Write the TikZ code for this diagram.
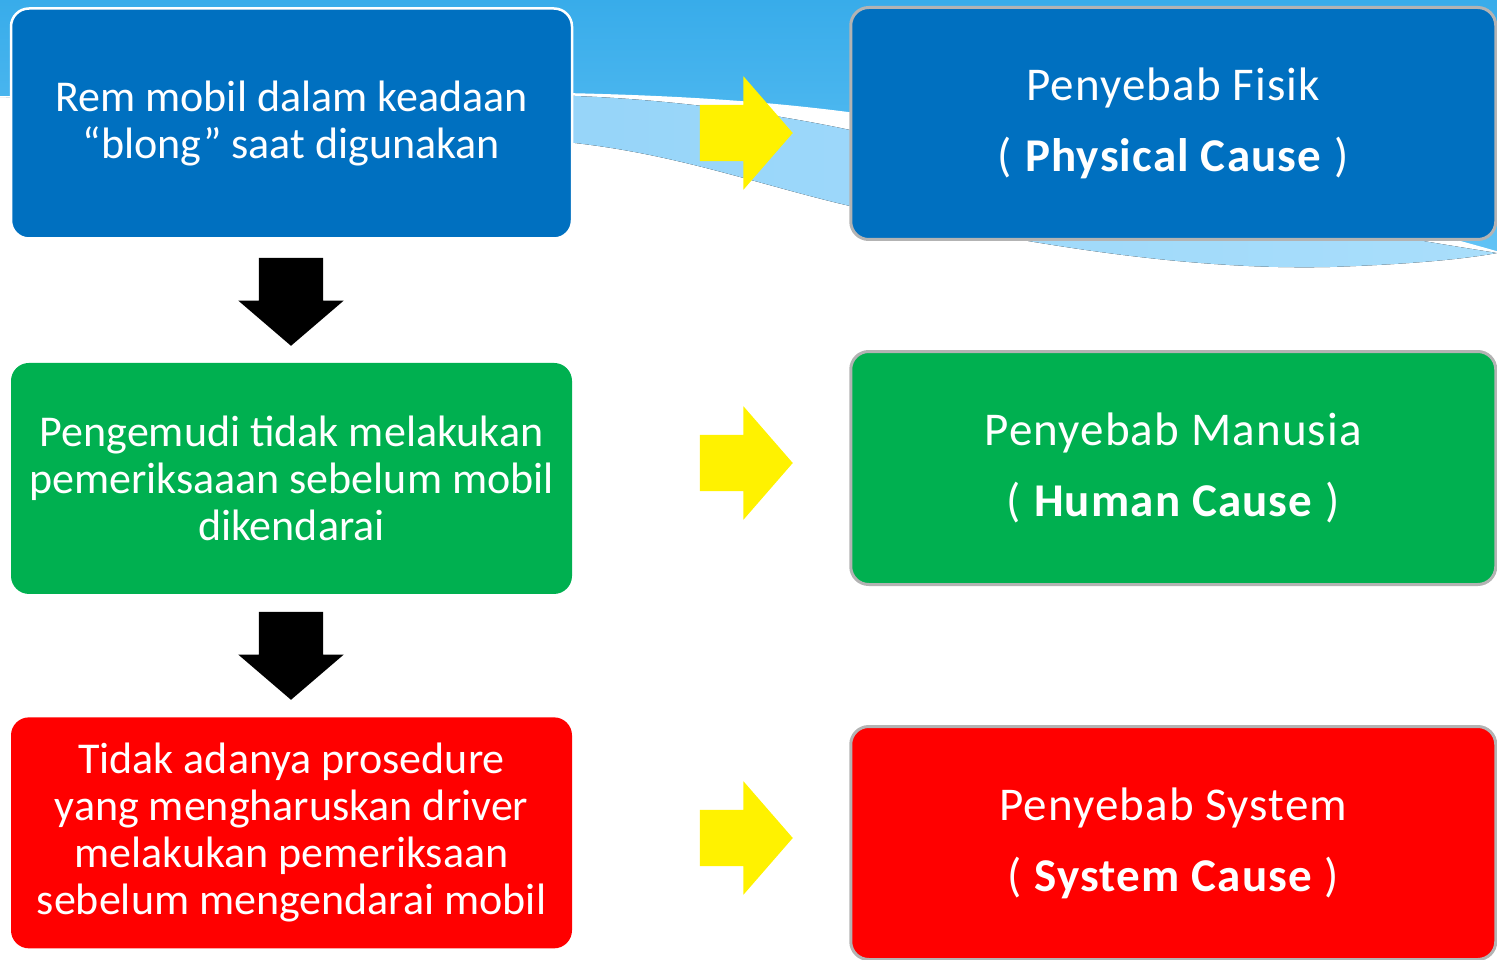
\documentclass[tikz,border=0pt]{standalone}
\usepackage{fontspec}
\setmainfont{Carlito}
\newfontfamily\causefont{Carlito}[LetterSpace=2.5]
\usetikzlibrary{positioning,shapes.arrows}
\definecolor{remblue}{HTML}{0070C0}
\definecolor{manusiagreen}{HTML}{00B050}
\definecolor{sistemred}{HTML}{FF0000}
\definecolor{skytop}{HTML}{38ACEA}
\definecolor{skylow}{HTML}{62C3F5}
\definecolor{wavelight}{HTML}{8BCFF8}
\definecolor{wavepale}{HTML}{A9DEFB}
\definecolor{causegray}{HTML}{B3B3B3}

\begin{document}
\begin{tikzpicture}[x=1pt,y=-1pt,
  node distance=123pt and 276pt,
  akar/.style={rounded corners=18pt,minimum width=561pt,minimum height=231pt,align=center,text=white,font=\fontsize{44}{47}\selectfont,inner sep=0pt},
  sebab/.style={draw=causegray,line width=3pt,rounded corners=18pt,minimum width=645pt,minimum height=233pt,align=center,text=white,font=\causefont\fontsize{47}{71}\selectfont,inner sep=0pt},
  turun/.style={single arrow,shape border rotate=270,fill=black,minimum height=88pt,single arrow head extend=20.5pt,single arrow tip angle=98.8,inner xsep=32pt,inner ysep=0pt},
  lanjut/.style={single arrow,fill=yellow,minimum height=93pt,single arrow head extend=28.5pt,single arrow tip angle=98,inner xsep=0pt,inner ysep=28pt}
]
\useasboundingbox (0,0) rectangle (1497,960);
% background wave
\fill[top color=skytop,bottom color=skylow] (0,0) -- (1497,0) -- (1497,252)
  .. controls (1350,210) and (1100,150) .. (850,113)
  .. controls (780,104) and (700,97) .. (575,94)
  .. controls (450,91) and (250,92) .. (0,97) -- cycle;
\fill[left color=wavelight,right color=wavepale] (0,97)
  .. controls (250,93) and (450,92) .. (575,96)
  .. controls (680,100) and (780,115) .. (850,130)
  .. controls (1100,185) and (1350,230) .. (1497,253)
  .. controls (1470,258) and (1420,264) .. (1330,267)
  .. controls (1200,270) and (1050,250) .. (850,206)
  .. controls (760,185) and (680,155) .. (575,143)
  .. controls (400,125) and (200,105) .. (0,97) -- cycle;
\draw[white,line width=1.5pt] (0,97)
  .. controls (250,92) and (450,91) .. (575,94)
  .. controls (700,97) and (780,104) .. (850,113)
  .. controls (1100,150) and (1350,210) .. (1497,252);

% left column
\node[akar,fill=remblue,draw=white,line width=2.5pt,minimum height=230pt] (rem) at (291.5,123.5)
  {Rem mobil dalam keadaan\\``blong'' saat digunakan};
\node[akar,fill=manusiagreen,below=of rem] (pengemudi)
  {Pengemudi tidak melakukan\\pemeriksaaan sebelum mobil\\dikendarai};
\node[akar,fill=sistemred,below=of pengemudi] (prosedur)
  {Tidak adanya prosedure\\yang mengharuskan driver\\melakukan pemeriksaan\\sebelum mengendarai mobil};

% right column
\node[sebab,fill=remblue,right=of rem,minimum height=232pt] (fisik)
  {Penyebab Fisik\\( \textbf{Physical Cause} )};
\node[sebab,fill=manusiagreen,below=109pt of fisik] (manusia)
  {Penyebab Manusia\\( \textbf{Human Cause} )};
\node[sebab,fill=sistemred,below=139pt of manusia] (sistem)
  {Penyebab System\\( \textbf{System Cause} )};

% block arrows
\node[turun] (turun1) at (291,288) {};
\node[turun] (turun2) at (291,642) {};
\node[lanjut] (lanjut1) at (734,133) {};
\node[lanjut] (lanjut2) at (734,463) {};
\node[lanjut] (lanjut3) at (734,838) {};
\end{tikzpicture}
\end{document}
